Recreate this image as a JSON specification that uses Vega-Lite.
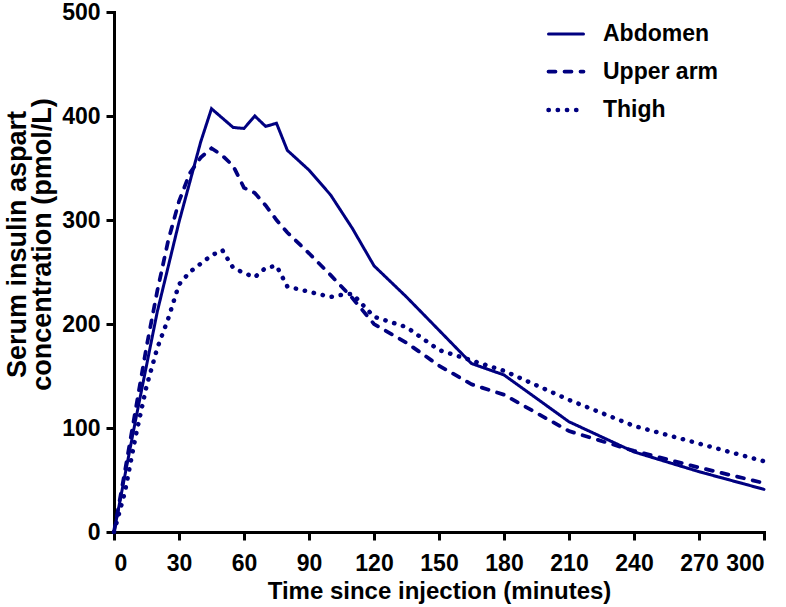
{
  "$schema": "https://vega.github.io/schema/vega-lite/v6.json",
  "width": 650,
  "height": 520,
  "autosize": "none",
  "padding": {"left": 114, "top": 12, "right": 22, "bottom": 75},
  "background": "white",
  "config": {
    "view": {"stroke": null},
    "font": "Liberation Sans",
    "axis": {
      "grid": false,
      "domainColor": "black",
      "domainWidth": 3,
      "domainCap": "square",
      "tickColor": "black",
      "tickWidth": 3,
      "tickSize": 8,
      "labelFont": "Liberation Sans",
      "labelFontSize": 23,
      "labelFontWeight": "bold",
      "labelColor": "black",
      "titleFont": "Liberation Sans",
      "titleFontSize": 24,
      "titleFontWeight": "bold",
      "titleColor": "black"
    }
  },
  "datasets": {
    "curves": [
      {"t": 0, "v": 0, "site": "Abdomen"},
      {"t": 10, "v": 108, "site": "Abdomen"},
      {"t": 20, "v": 212, "site": "Abdomen"},
      {"t": 30, "v": 298, "site": "Abdomen"},
      {"t": 40, "v": 375, "site": "Abdomen"},
      {"t": 45, "v": 407, "site": "Abdomen"},
      {"t": 50, "v": 398, "site": "Abdomen"},
      {"t": 55, "v": 389, "site": "Abdomen"},
      {"t": 60, "v": 388, "site": "Abdomen"},
      {"t": 65, "v": 400, "site": "Abdomen"},
      {"t": 70, "v": 390, "site": "Abdomen"},
      {"t": 75, "v": 393, "site": "Abdomen"},
      {"t": 80, "v": 367, "site": "Abdomen"},
      {"t": 90, "v": 348, "site": "Abdomen"},
      {"t": 100, "v": 324, "site": "Abdomen"},
      {"t": 110, "v": 292, "site": "Abdomen"},
      {"t": 120, "v": 256, "site": "Abdomen"},
      {"t": 135, "v": 226, "site": "Abdomen"},
      {"t": 150, "v": 194, "site": "Abdomen"},
      {"t": 165, "v": 162, "site": "Abdomen"},
      {"t": 180, "v": 151, "site": "Abdomen"},
      {"t": 210, "v": 106, "site": "Abdomen"},
      {"t": 240, "v": 77, "site": "Abdomen"},
      {"t": 270, "v": 58, "site": "Abdomen"},
      {"t": 300, "v": 41, "site": "Abdomen"},

      {"t": 0, "v": 0, "site": "Upper arm"},
      {"t": 5, "v": 58, "site": "Upper arm"},
      {"t": 10, "v": 118, "site": "Upper arm"},
      {"t": 15, "v": 178, "site": "Upper arm"},
      {"t": 20, "v": 232, "site": "Upper arm"},
      {"t": 25, "v": 280, "site": "Upper arm"},
      {"t": 30, "v": 318, "site": "Upper arm"},
      {"t": 35, "v": 345, "site": "Upper arm"},
      {"t": 40, "v": 360, "site": "Upper arm"},
      {"t": 45, "v": 369, "site": "Upper arm"},
      {"t": 50, "v": 362, "site": "Upper arm"},
      {"t": 55, "v": 352, "site": "Upper arm"},
      {"t": 60, "v": 331, "site": "Upper arm"},
      {"t": 65, "v": 326, "site": "Upper arm"},
      {"t": 70, "v": 314, "site": "Upper arm"},
      {"t": 75, "v": 300, "site": "Upper arm"},
      {"t": 80, "v": 288, "site": "Upper arm"},
      {"t": 90, "v": 268, "site": "Upper arm"},
      {"t": 100, "v": 247, "site": "Upper arm"},
      {"t": 110, "v": 225, "site": "Upper arm"},
      {"t": 120, "v": 200, "site": "Upper arm"},
      {"t": 135, "v": 182, "site": "Upper arm"},
      {"t": 150, "v": 160, "site": "Upper arm"},
      {"t": 165, "v": 142, "site": "Upper arm"},
      {"t": 180, "v": 132, "site": "Upper arm"},
      {"t": 210, "v": 97, "site": "Upper arm"},
      {"t": 240, "v": 78, "site": "Upper arm"},
      {"t": 270, "v": 62, "site": "Upper arm"},
      {"t": 300, "v": 47, "site": "Upper arm"},

      {"t": 0, "v": 0, "site": "Thigh"},
      {"t": 5, "v": 38, "site": "Thigh"},
      {"t": 10, "v": 92, "site": "Thigh"},
      {"t": 15, "v": 140, "site": "Thigh"},
      {"t": 20, "v": 177, "site": "Thigh"},
      {"t": 25, "v": 205, "site": "Thigh"},
      {"t": 30, "v": 238, "site": "Thigh"},
      {"t": 35, "v": 250, "site": "Thigh"},
      {"t": 40, "v": 258, "site": "Thigh"},
      {"t": 45, "v": 266, "site": "Thigh"},
      {"t": 50, "v": 271, "site": "Thigh"},
      {"t": 55, "v": 254, "site": "Thigh"},
      {"t": 60, "v": 249, "site": "Thigh"},
      {"t": 65, "v": 245, "site": "Thigh"},
      {"t": 70, "v": 254, "site": "Thigh"},
      {"t": 75, "v": 256, "site": "Thigh"},
      {"t": 80, "v": 236, "site": "Thigh"},
      {"t": 90, "v": 231, "site": "Thigh"},
      {"t": 100, "v": 226, "site": "Thigh"},
      {"t": 105, "v": 228, "site": "Thigh"},
      {"t": 110, "v": 229, "site": "Thigh"},
      {"t": 120, "v": 207, "site": "Thigh"},
      {"t": 135, "v": 197, "site": "Thigh"},
      {"t": 150, "v": 175, "site": "Thigh"},
      {"t": 165, "v": 165, "site": "Thigh"},
      {"t": 180, "v": 155, "site": "Thigh"},
      {"t": 210, "v": 127, "site": "Thigh"},
      {"t": 240, "v": 102, "site": "Thigh"},
      {"t": 270, "v": 85, "site": "Thigh"},
      {"t": 300, "v": 68, "site": "Thigh"}
    ]
  },
  "data": {"name": "curves"},
  "mark": {"type": "line", "color": "#000080", "strokeCap": "round", "strokeJoin": "miter"},
  "encoding": {
    "x": {
      "field": "t",
      "type": "quantitative",
      "scale": {"domain": [0, 300], "nice": false},
      "axis": {
        "values": [0, 30, 60, 90, 120, 150, 180, 210, 240, 270, 300],
        "title": "Time since injection (minutes)",
        "labelPadding": 12,
        "titlePadding": 4
      }
    },
    "y": {
      "field": "v",
      "type": "quantitative",
      "scale": {"domain": [0, 500], "nice": false},
      "axis": {
        "values": [0, 100, 200, 300, 400, 500],
        "title": ["Serum insulin aspart", "concentration (pmol/L)"],
        "titleFontSize": 27,
        "titleLineHeight": 25,
        "labelPadding": 6,
        "titlePadding": 5,
        "titleY": 232
      }
    },
    "strokeWidth": {
      "field": "site",
      "type": "nominal",
      "scale": {
        "domain": ["Abdomen", "Upper arm", "Thigh"],
        "range": [3, 4.5, 4.5]
      },
      "legend": null
    },
    "strokeDash": {
      "field": "site",
      "type": "nominal",
      "scale": {
        "domain": ["Abdomen", "Upper arm", "Thigh"],
        "range": [[1, 0], [7, 9], [0.3, 8.9]]
      },
      "legend": {
        "title": null,
        "orient": "none",
        "legendX": 432,
        "legendY": 3,
        "padding": 0,
        "symbolType": "stroke",
        "symbolSize": 1225,
        "symbolStrokeWidth": 4,
        "symbolStrokeColor": "#000080",
        "labelFont": "Liberation Sans",
        "labelFontSize": 23,
        "labelFontWeight": "bold",
        "labelColor": "black",
        "labelOffset": 17,
        "rowPadding": 6,
        "encode": {"symbols": {"update": {"strokeCap": {"value": "round"}}}}
      }
    }
  }
}
